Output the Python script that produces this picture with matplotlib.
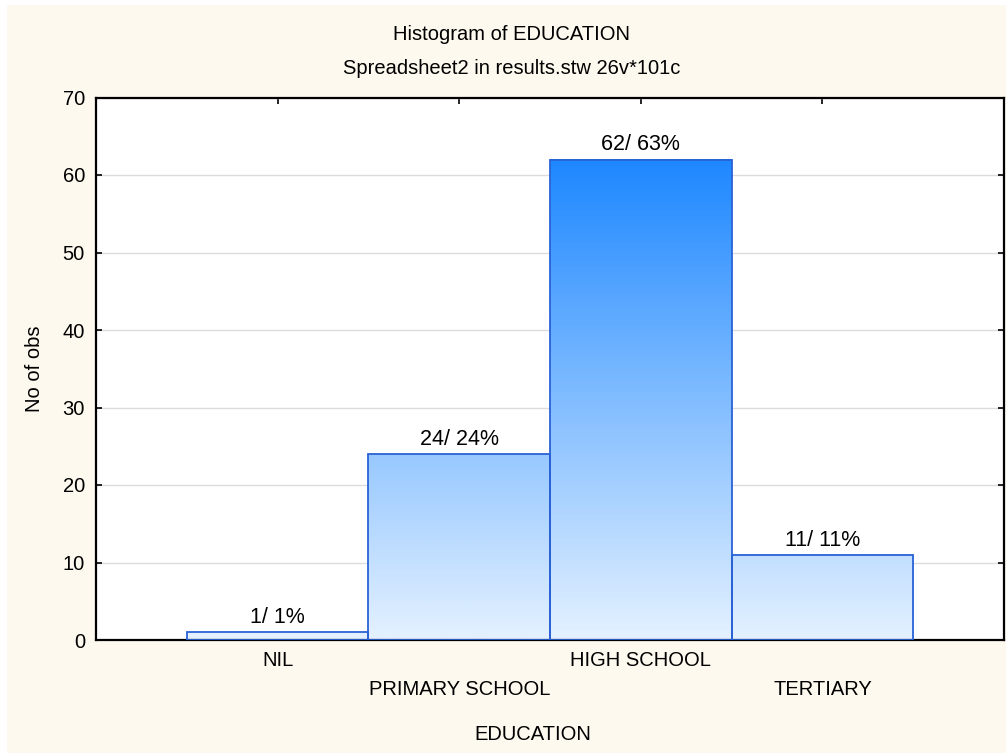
import matplotlib
matplotlib.use("Agg")
from matplotlib import pyplot as plt
from matplotlib.colors import LinearSegmentedColormap
from matplotlib.patches import Rectangle
import numpy as np

categories = ["NIL", "PRIMARY SCHOOL", "HIGH SCHOOL", "TERTIARY"]
counts = [1, 24, 62, 11]
percents = [1, 24, 63, 11]

plt.rcParams["font.family"] = ["Liberation Sans", "DejaVu Sans"]
fs = 14.5

fig = plt.figure(figsize=(10.06, 7.53), dpi=100)
fig.patch.set_facecolor("white")
fig.add_artist(Rectangle((7 / 1006, 0), 1 - 7 / 1006, 1 - 5 / 753,
                         transform=fig.transFigure, facecolor="#fef9ee",
                         edgecolor="none", zorder=-10))

ax = fig.add_axes([96 / 1006, 1 - 640 / 753, (1004 - 96) / 1006, (640 - 97.5) / 753])
ax.set_facecolor("white")

cmap = LinearSegmentedColormap.from_list("edu", ["#e4f1ff", "#1e88ff"])
x = np.arange(1, len(counts) + 1)
top = max(counts)
for xi, c in zip(x, counts):
    grad = np.linspace(0, c, 200).reshape(-1, 1)
    ax.imshow(grad, extent=(xi - 0.5, xi + 0.5, 0, c), origin="lower",
              cmap=cmap, vmin=0, vmax=top, aspect="auto", zorder=2)
ax.bar(x, counts, width=1.0, fill=False, edgecolor="#2a62d6", linewidth=1.3, zorder=3)

for xi, c, p in zip(x, counts, percents):
    ax.annotate(f"{c}/ {p}%", (xi, c), xytext=(0, 3), textcoords="offset points",
                ha="center", va="bottom", fontsize=15.5, color="black")

ax.set_xlim(0, 5)
ax.set_ylim(0, 70)
ax.set_yticks(np.arange(0, 71, 10))
ax.set_xticks(x, categories)
ax.yaxis.grid(True, color="#dcdcdc", linewidth=1.0, zorder=0)
ax.set_axisbelow(True)
ax.tick_params(direction="in", top=True, right=True, length=4, width=1.2,
               labelsize=fs, colors="black")
ax.tick_params(axis="y", pad=8)
for i, tick in enumerate(ax.xaxis.get_major_ticks()):
    tick.set_pad(8 if i % 2 == 0 else 29)
for s in ax.spines.values():
    s.set_linewidth(1.6)
    s.set_color("black")

fig.text(512 / 1006, 1 - 35 / 753, "Histogram of EDUCATION", ha="center", va="center", fontsize=fs)
fig.text(512 / 1006, 1 - 68 / 753, "Spreadsheet2 in results.stw 26v*101c", ha="center", va="center", fontsize=fs)
fig.text(533 / 1006, 1 - 735 / 753, "EDUCATION", ha="center", va="center", fontsize=fs)
fig.text(35 / 1006, 1 - 369 / 753, "No of obs", ha="center", va="center", rotation=90, fontsize=fs)

fig.savefig("out.png", dpi=100, facecolor=fig.get_facecolor())
